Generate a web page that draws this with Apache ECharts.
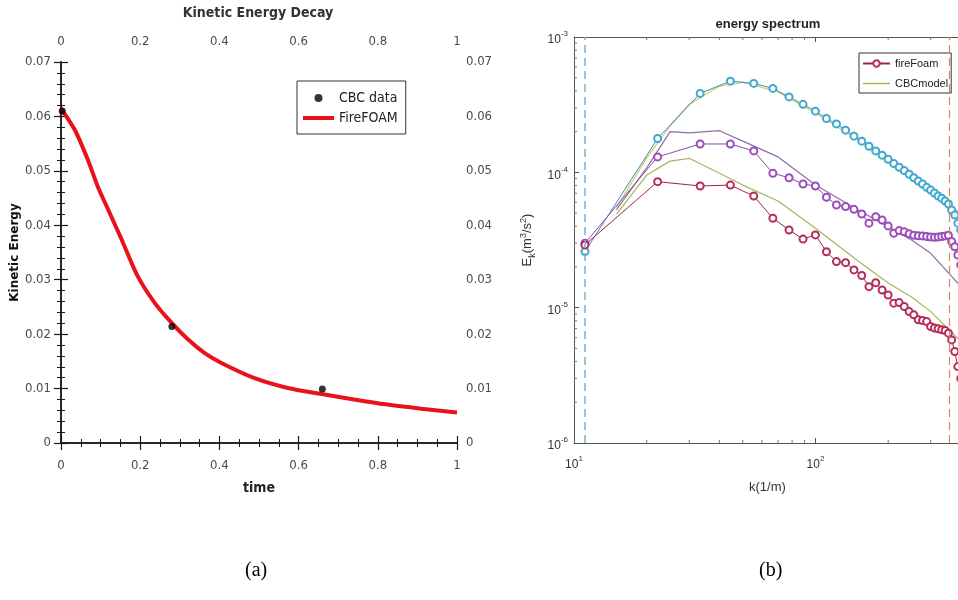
<!DOCTYPE html>
<html>
<head>
<meta charset="utf-8">
<title>Kinetic energy decay / energy spectrum</title>
<script src="https://cdn.jsdelivr.net/npm/echarts@6/dist/echarts.min.js"></script>
<style>
html, body { margin: 0; padding: 0; background: #fff; }
#chart { width: 958px; height: 600px; }
</style>
</head>
<body>
<div id="chart"></div>
<script>
// ---- (a) kinetic energy decay ----
var cbcTime = [0.003, 0.28, 0.66];
var cbcKE = [0.0610, 0.0214, 0.0099];
var foamTime = [0, 0.035, 0.068, 0.093, 0.119, 0.153, 0.194, 0.237, 0.279, 0.321, 0.363, 0.405, 0.489, 0.573, 0.658, 0.74, 0.82, 0.91, 1.0];
var foamKE = [0.0615, 0.0575, 0.0520, 0.0471, 0.0429, 0.0374, 0.0306, 0.0257, 0.0221, 0.0190, 0.0165, 0.0147, 0.0119, 0.0101, 0.0090, 0.0080, 0.0071, 0.0063, 0.0056];

// ---- (b) energy spectrum ----
// fireFoam wavenumbers (1/m)
var kFoam = [11.1, 22.2, 33.3, 44.4, 55.5, 66.6, 77.7, 88.8, 99.9, 111, 122.1, 133.2, 144.3, 155.4, 166.5, 177.6, 188.7, 199.8,
  210.9, 222, 233.1, 244.2, 255.3, 266.4, 277.5, 288.6, 299.7, 310.8, 321.9, 333, 344.1, 355.2, 366.3, 377.4, 388.5, 399.6];
var foamE1 = [2.60e-5, 1.78e-4, 3.83e-4, 4.72e-4, 4.54e-4, 4.17e-4, 3.61e-4, 3.18e-4, 2.83e-4, 2.50e-4, 2.28e-4, 2.05e-4,
  1.85e-4, 1.70e-4, 1.56e-4, 1.44e-4, 1.34e-4, 1.25e-4, 1.16e-4, 1.09e-4, 1.03e-4, 9.67e-5, 9.12e-5, 8.63e-5,
  8.20e-5, 7.75e-5, 7.40e-5, 7.03e-5, 6.68e-5, 6.43e-5, 6.14e-5, 5.83e-5, 5.27e-5, 4.84e-5, 4.21e-5, 3.75e-5];
var foamE2 = [2.99e-5, 1.30e-4, 1.62e-4, 1.62e-4, 1.44e-4, 9.84e-5, 9.12e-5, 8.20e-5, 7.93e-5, 6.55e-5, 5.74e-5, 5.58e-5,
  5.33e-5, 4.92e-5, 4.21e-5, 4.70e-5, 4.44e-5, 4.02e-5, 3.55e-5, 3.71e-5, 3.64e-5, 3.51e-5, 3.43e-5, 3.40e-5,
  3.39e-5, 3.35e-5, 3.33e-5, 3.31e-5, 3.33e-5, 3.35e-5, 3.39e-5, 3.43e-5, 3.08e-5, 2.82e-5, 2.45e-5, 2.07e-5];
var foamE3 = [2.91e-5, 8.53e-5, 7.93e-5, 8.05e-5, 6.68e-5, 4.58e-5, 3.75e-5, 3.21e-5, 3.45e-5, 2.59e-5, 2.19e-5, 2.15e-5,
  1.90e-5, 1.73e-5, 1.43e-5, 1.53e-5, 1.35e-5, 1.24e-5, 1.08e-5, 1.09e-5, 1.02e-5, 9.35e-6, 8.85e-6, 8.13e-6,
  8.04e-6, 7.89e-6, 7.26e-6, 7.07e-6, 6.98e-6, 6.86e-6, 6.78e-6, 6.48e-6, 5.78e-6, 4.74e-6, 3.67e-6, 3.00e-6];
// CBC model spectra
var kModel = [15, 20, 25, 30, 40, 50, 70, 100, 150, 200, 250, 300, 400];
var modelE1 = [5.5e-5, 1.28e-4, 2.20e-4, 3.19e-4, 4.33e-4, 4.64e-4, 3.92e-4, 2.74e-4, 1.73e-4, 1.23e-4, 9.22e-5, 7.28e-5, 5.0e-5];
var modelE2 = [5.3e-5, 1.08e-4, 2.00e-4, 1.96e-4, 2.03e-4, 1.70e-4, 1.30e-4, 8.05e-5, 5.26e-5, 3.97e-5, 3.16e-5, 2.52e-5, 1.43e-5];
var modelE3 = [4.92e-5, 9.55e-5, 1.21e-4, 1.27e-4, 9.84e-5, 8.05e-5, 6.14e-5, 3.86e-5, 2.21e-5, 1.52e-5, 1.20e-5, 9.35e-6, 5.62e-6];
var cutoffK = [11.1, 359];
// log axis minor tick positions
var kMinor = [20, 30, 40, 50, 60, 70, 80, 90, 200, 300, 400, 500, 600, 700, 800, 900];
var eMinor = [2e-6, 3e-6, 4e-6, 5e-6, 6e-6, 7e-6, 8e-6, 9e-6, 2e-5, 3e-5, 4e-5, 5e-5, 6e-5, 7e-5, 8e-5, 9e-5,
  2e-4, 3e-4, 4e-4, 5e-4, 6e-4, 7e-4, 8e-4, 9e-4];

var COND = '"DejaVu Sans Condensed", "DejaVu Sans", sans-serif';
var ARIAL = '"Liberation Sans", Arial, sans-serif';

function zip(xs, ys) {
  return xs.map(function (x, i) { return [x, ys[i]]; });
}

var chart = echarts.init(document.getElementById('chart'));

var leftLabel = { fontFamily: COND, fontSize: 13, color: '#4a4a4a' };
var leftLine = { lineStyle: { color: '#1a1a1a', width: 1.5 } };
var leftTick = { length: 7, lineStyle: { color: '#1a1a1a', width: 1.2 } };

function supLabel(v) {
  return '{b|10}{s|' + Math.round(Math.log10(v)) + '}';
}
var supRich = {
  b: { fontFamily: ARIAL, fontSize: 12, lineHeight: 14, padding: [6, 0, 0, 0], color: '#333' },
  s: { fontFamily: ARIAL, fontSize: 8, lineHeight: 10, verticalAlign: 'top', color: '#333' }
};
var rightLine = { lineStyle: { color: '#555', width: 1 } };
var rightTick = { inside: true, length: 5, lineStyle: { color: '#555' } };

function minorTickX(params, api) {
  var b = api.coord([api.value(0), 1e-6]);
  var t = api.coord([api.value(0), 1e-3]);
  return {
    type: 'group',
    children: [
      { type: 'line', shape: { x1: b[0], y1: b[1], x2: b[0], y2: b[1] - 3 }, style: { stroke: '#777', lineWidth: 1 } },
      { type: 'line', shape: { x1: t[0], y1: t[1], x2: t[0], y2: t[1] + 3 }, style: { stroke: '#777', lineWidth: 1 } }
    ]
  };
}
function minorTickY(params, api) {
  var p = api.coord([10, api.value(1)]);
  return { type: 'line', shape: { x1: p[0], y1: p[1], x2: p[0] + 3, y2: p[1] }, style: { stroke: '#777', lineWidth: 1 } };
}

var option = {
  animation: false,
  backgroundColor: '#fff',
  title: [
    { text: 'Kinetic Energy Decay', left: 258, top: 6, padding: 0, textAlign: 'center',
      textStyle: { fontFamily: COND, fontSize: 14, fontWeight: 'bold', color: '#333' } },
    { text: 'energy spectrum', left: 768, top: 18, padding: 0, textAlign: 'center',
      textStyle: { fontFamily: ARIAL, fontSize: 13, fontWeight: 'bold', color: '#222' } }
  ],
  legend: [
    { left: 297, top: 81, orient: 'vertical', padding: [10, 8, 9, 6], itemGap: 6, itemWidth: 31, itemHeight: 8,
      borderColor: '#333', borderWidth: 1, backgroundColor: '#fff',
      textStyle: { fontFamily: COND, fontSize: 14, color: '#222' },
      data: ['CBC data', { name: 'FireFOAM', icon: 'path://M0,0H31V4H0Z' }] },
    { left: 859, top: 53, orient: 'vertical', padding: [5, 3, 4, 3], itemGap: 9, itemWidth: 27, itemHeight: 8,
      borderColor: '#333', borderWidth: 1, backgroundColor: '#fff',
      textStyle: { fontFamily: ARIAL, fontSize: 11, color: '#222' },
      data: ['fireFoam', { name: 'CBCmodel', icon: 'path://M0,0H27V1.5H0Z', itemStyle: { color: '#a3b75a' } }] }
  ],
  grid: [
    { left: 61, top: 62, width: 396, height: 381, outerBoundsMode: 'none' },
    { left: 574, top: 37, width: 483, height: 406, outerBoundsMode: 'none' }
  ],
  xAxis: [
    { gridIndex: 0, type: 'value', position: 'bottom', min: 0, max: 1, interval: 0.2,
      name: 'time', nameLocation: 'middle', nameGap: 38,
      nameTextStyle: { fontFamily: COND, fontSize: 14, fontWeight: 'bold', color: '#222' },
      axisLine: leftLine, axisTick: leftTick,
      minorTick: { show: true, splitNumber: 4, length: 4, lineStyle: { color: '#1a1a1a' } },
      axisLabel: Object.assign({ margin: 16 }, leftLabel), splitLine: { show: false } },
    { gridIndex: 0, type: 'value', position: 'top', min: 0, max: 1, interval: 0.2,
      axisLine: leftLine, axisTick: leftTick,
      minorTick: { show: true, splitNumber: 4, length: 4, lineStyle: { color: '#1a1a1a' } },
      axisLabel: Object.assign({ margin: 14 }, leftLabel), splitLine: { show: false } },
    { gridIndex: 1, type: 'log', logBase: 10, position: 'bottom', min: 10, max: 1000,
      axisLine: rightLine, axisTick: rightTick,
      axisLabel: { formatter: supLabel, rich: supRich, margin: 12 }, splitLine: { show: false } },
    { gridIndex: 1, type: 'log', logBase: 10, position: 'top', min: 10, max: 1000,
      axisLine: rightLine, axisTick: rightTick, axisLabel: { show: false }, splitLine: { show: false } }
  ],
  yAxis: [
    { gridIndex: 0, type: 'value', position: 'left', min: 0, max: 0.07, interval: 0.01,
      name: 'Kinetic Energy', nameLocation: 'middle', nameGap: 38,
      nameTextStyle: { fontFamily: '"DejaVu Sans", sans-serif', fontSize: 12, fontWeight: 'bold', color: '#111' },
      axisLine: leftLine, axisTick: leftTick,
      minorTick: { show: true, splitNumber: 5, length: 4, lineStyle: { color: '#1a1a1a' } },
      axisLabel: Object.assign({ margin: 10 }, leftLabel), splitLine: { show: false } },
    { gridIndex: 0, type: 'value', position: 'right', min: 0, max: 0.07, interval: 0.01,
      axisLine: leftLine, axisTick: leftTick,
      minorTick: { show: true, splitNumber: 5, length: 4, lineStyle: { color: '#1a1a1a' } },
      axisLabel: Object.assign({ margin: 9 }, leftLabel), splitLine: { show: false } },
    { gridIndex: 1, type: 'log', logBase: 10, position: 'left', min: 1e-6, max: 1e-3,
      name: '{t|E}{sub|k}{t|(m}{sup|3}{t|/s}{sup|2}{t|)}', nameLocation: 'middle', nameGap: 36,
      nameTextStyle: { rich: {
        t: { fontFamily: ARIAL, fontSize: 13, lineHeight: 18, color: '#333' },
        sub: { fontFamily: ARIAL, fontSize: 9, lineHeight: 9, verticalAlign: 'bottom', color: '#333' },
        sup: { fontFamily: ARIAL, fontSize: 9, lineHeight: 9, verticalAlign: 'top', color: '#333' } } },
      axisLine: rightLine, axisTick: rightTick,
      axisLabel: { formatter: supLabel, rich: supRich, margin: 6 }, splitLine: { show: false } }
  ],
  graphic: [
    { type: 'text', left: 749, top: 481, style: { text: 'k(1/m)', font: '13px "Liberation Sans", Arial', fill: '#333' } },
    { type: 'text', left: 245, top: 561, style: { text: '(a)', font: '20px "Liberation Serif", "Times New Roman", serif', fill: '#000' } },
    { type: 'text', left: 759, top: 561, style: { text: '(b)', font: '20px "Liberation Serif", "Times New Roman", serif', fill: '#000' } }
  ],
  series: [
    { name: 'FireFOAM', type: 'line', xAxisIndex: 0, yAxisIndex: 0, data: zip(foamTime, foamKE),
      smooth: 0.25, symbol: 'none', color: '#e8121b', lineStyle: { color: '#e8121b', width: 4 } },
    { name: 'CBC data', type: 'scatter', xAxisIndex: 0, yAxisIndex: 0, data: zip(cbcTime, cbcKE),
      symbolSize: 7, itemStyle: { color: '#000' }, z: 5 },

    { name: 'minor x', type: 'custom', xAxisIndex: 2, yAxisIndex: 2, renderItem: minorTickX, silent: true,
      data: kMinor.map(function (k) { return [k, 1e-6]; }) },
    { name: 'minor y', type: 'custom', xAxisIndex: 2, yAxisIndex: 2, renderItem: minorTickY, silent: true,
      data: eMinor.map(function (e) { return [10, e]; }) },

    { name: 'CBCmodel 1', type: 'line', xAxisIndex: 2, yAxisIndex: 2, data: zip(kModel, modelE1),
      symbol: 'none', color: '#cccc66', lineStyle: { color: '#cccc66', width: 1.2 } },
    { name: 'CBCmodel 2', type: 'line', xAxisIndex: 2, yAxisIndex: 2, data: zip(kModel, modelE2),
      symbol: 'none', color: '#8c6fa6', lineStyle: { color: '#8c6fa6', width: 1.2 } },
    { name: 'CBCmodel', type: 'line', xAxisIndex: 2, yAxisIndex: 2, data: zip(kModel, modelE3),
      symbol: 'none', color: '#a3b75a', lineStyle: { color: '#a3b75a', width: 1.2 } },

    { name: 'fireFoam 1', type: 'line', xAxisIndex: 2, yAxisIndex: 2, data: zip(kFoam, foamE1),
      symbol: 'emptyCircle', symbolSize: 7, color: '#3fa9d0', lineStyle: { color: '#3a8fb0', width: 1 },
      itemStyle: { color: '#3fa9d0', borderWidth: 1 },
      markLine: { silent: true, symbol: 'none', label: { show: false },
        data: [
          { xAxis: cutoffK[0], lineStyle: { color: '#7aaed2', type: [8, 5], width: 1.5 } },
          { xAxis: cutoffK[1], lineStyle: { color: '#d8866a', type: [8, 5], width: 1.2 } }
        ] } },
    { name: 'fireFoam 2', type: 'line', xAxisIndex: 2, yAxisIndex: 2, data: zip(kFoam, foamE2),
      symbol: 'emptyCircle', symbolSize: 7, color: '#9c4dbb', lineStyle: { color: '#8a4aa6', width: 1 },
      itemStyle: { color: '#9c4dbb', borderWidth: 1 } },
    { name: 'fireFoam', type: 'line', xAxisIndex: 2, yAxisIndex: 2, data: zip(kFoam, foamE3),
      symbol: 'emptyCircle', symbolSize: 7, color: '#b52d58', lineStyle: { color: '#9e2347', width: 1 },
      itemStyle: { color: '#b52d58', borderWidth: 1 } }
  ]
};

chart.setOption(option);
window.addEventListener('resize', function () { chart.resize(); });
</script>
</body>
</html>
